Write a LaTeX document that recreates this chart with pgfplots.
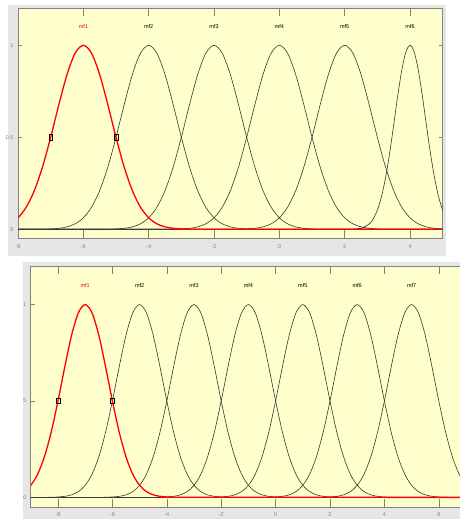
\documentclass[border=0pt]{standalone}
\usepackage{fontspec}
\setmainfont{Liberation Sans}
\usepackage{pgfplots}
\pgfplotsset{compat=1.18}
\definecolor{bgy}{RGB}{255,255,206}
\definecolor{frm}{RGB}{230,230,230}
\definecolor{axc}{RGB}{130,130,130}
\definecolor{crv}{RGB}{55,55,45}
\pgfplotsset{mfaxis/.style={
  scale only axis,
  axis background/.style={fill=bgy},
  axis line style={axc, line width=0.6pt},
  ymin=-0.05, ymax=1.2, ytick={0,0.5,1}, yticklabels={0,0.5,1},
  tick style={axc, line width=0.5pt},
  major tick length=4pt,
  xtick style={/pgfplots/major tick length=8pt},
  tick label style={font=\fontsize{5.5}{6}\selectfont, text=axc},
  xticklabel style={yshift=-2.5pt},
  yticklabel style={xshift=-1pt},
  /pgf/number format/assume math mode=true,
  mfline/.style={crv, line width=0.6pt, smooth, mark=none},
  redline/.style={red, line width=1.3pt, smooth, mark=none},
  boxmark/.style={only marks, mark=square, mark size=2.6pt, mark options={draw=black, fill=none, line width=0.5pt, xscale=0.7}},
}}
\newcommand{\mflab}[3]{\node[font=\fontsize{5.5}{6}\selectfont, text=#3] at (axis cs:#1,1.1) {#2};}
\begin{document}
\begin{tikzpicture}
\fill[white] (0pt,0pt) rectangle (460pt,519pt);
\fill[frm] (8pt,263pt) rectangle (446pt,514pt);
\fill[frm] (23pt,0pt) rectangle (470pt,257pt);
\begin{axis}[mfaxis, at={(18pt,280.5pt)}, anchor=south west, width=424.7pt, height=230pt,
  xmin=-8, xmax=5, xtick={-8,-6,...,4}]
\addplot[mfline] coordinates {(-10,0) (-7.5,0.00021) (-7.25,0.00066) (-7,0.00195) (-6.75,0.00529) (-6.5,0.01314) (-6.25,0.02993) (-6,0.0625) (-5.75,0.1197) (-5.5,0.2102) (-5.25,0.3386) (-5,0.5) (-4.75,0.6771) (-4.5,0.8409) (-4.25,0.9576) (-4,1) (-3.75,0.9576) (-3.5,0.8409) (-3.25,0.6771) (-3,0.5) (-2.75,0.3386) (-2.5,0.2102) (-2.25,0.1197) (-2,0.0625) (-1.75,0.02993) (-1.5,0.01314) (-1.25,0.00529) (-1,0.00195) (-0.75,0.00066) (-0.5,0.00021) (8,0)};
\addplot[mfline] coordinates {(-10,0) (-5.5,0.00021) (-5.25,0.00066) (-5,0.00195) (-4.75,0.00529) (-4.5,0.01314) (-4.25,0.02993) (-4,0.0625) (-3.75,0.1197) (-3.5,0.2102) (-3.25,0.3386) (-3,0.5) (-2.75,0.6771) (-2.5,0.8409) (-2.25,0.9576) (-2,1) (-1.75,0.9576) (-1.5,0.8409) (-1.25,0.6771) (-1,0.5) (-0.75,0.3386) (-0.5,0.2102) (-0.25,0.1197) (0,0.0625) (0.25,0.02993) (0.5,0.01314) (0.75,0.00529) (1,0.00195) (1.25,0.00066) (1.5,0.00021) (8,0)};
\addplot[mfline] coordinates {(-10,0) (-3.5,0.00021) (-3.25,0.00066) (-3,0.00195) (-2.75,0.00529) (-2.5,0.01314) (-2.25,0.02993) (-2,0.0625) (-1.75,0.1197) (-1.5,0.2102) (-1.25,0.3386) (-1,0.5) (-0.75,0.6771) (-0.5,0.8409) (-0.25,0.9576) (0,1) (0.25,0.9576) (0.5,0.8409) (0.75,0.6771) (1,0.5) (1.25,0.3386) (1.5,0.2102) (1.75,0.1197) (2,0.0625) (2.25,0.02993) (2.5,0.01314) (2.75,0.00529) (3,0.00195) (3.25,0.00066) (3.5,0.00021) (8,0)};
\addplot[mfline] coordinates {(-10,0) (-1.5,0.00021) (-1.25,0.00066) (-1,0.00195) (-0.75,0.00529) (-0.5,0.01314) (-0.25,0.02993) (0,0.0625) (0.25,0.1197) (0.5,0.2102) (0.75,0.3386) (1,0.5) (1.25,0.6771) (1.5,0.8409) (1.75,0.9576) (2,1) (2.25,0.9576) (2.5,0.8409) (2.75,0.6771) (3,0.5) (3.25,0.3386) (3.5,0.2102) (3.75,0.1197) (4,0.0625) (4.25,0.02993) (4.5,0.01314) (4.75,0.00529) (5,0.00195) (5.25,0.00066) (5.5,0.00021) (8,0)};
\addplot[mfline] coordinates {(-10,0) (2,0.00012) (2.25,0.00098) (2.5,0.00614) (2.75,0.0291) (2.875,0.0570) (3,0.1040) (3.125,0.1768) (3.25,0.2799) (3.375,0.4131) (3.5,0.5679) (3.625,0.7274) (3.75,0.8681) (3.875,0.9652) (4,1) (4.125,0.9652) (4.25,0.8681) (4.375,0.7274) (4.5,0.5679) (4.625,0.4131) (4.75,0.2799) (4.875,0.1768) (5,0.1040) (5.125,0.0570) (5.25,0.0291) (5.5,0.00614) (5.75,0.00098)};
\addplot[redline] coordinates {(-9.5,0.00021) (-9.25,0.00066) (-9,0.00195) (-8.75,0.00529) (-8.5,0.01314) (-8.25,0.02993) (-8,0.0625) (-7.75,0.1197) (-7.5,0.2102) (-7.25,0.3386) (-7,0.5) (-6.75,0.6771) (-6.5,0.8409) (-6.25,0.9576) (-6,1) (-5.75,0.9576) (-5.5,0.8409) (-5.25,0.6771) (-5,0.5) (-4.75,0.3386) (-4.5,0.2102) (-4.25,0.1197) (-4,0.0625) (-3.75,0.02993) (-3.5,0.01314) (-3.25,0.00529) (-3,0.00195) (-2.75,0.00066) (-2.5,0.00021) (8,0)};
\addplot[boxmark] coordinates {(-7,0.5) (-5,0.5)};
\mflab{-6}{mf1}{red}
\mflab{-4}{mf2}{black}
\mflab{-2}{mf3}{black}
\mflab{0}{mf4}{black}
\mflab{2}{mf5}{black}
\mflab{4}{mf6}{black}
\end{axis}
\begin{scope}
\clip (23pt,0pt) rectangle (460pt,257pt);
\begin{axis}[mfaxis, at={(30.8pt,12pt)}, anchor=south west, width=435.2pt, height=241pt,
  xmin=-9, xmax=7, xtick={-8,-6,...,6}]
\addplot[mfline] coordinates {(-10,0) (-8.5,0.00021) (-8.25,0.00066) (-8,0.00195) (-7.75,0.00529) (-7.5,0.01314) (-7.25,0.02993) (-7,0.0625) (-6.75,0.1197) (-6.5,0.2102) (-6.25,0.3386) (-6,0.5) (-5.75,0.6771) (-5.5,0.8409) (-5.25,0.9576) (-5,1) (-4.75,0.9576) (-4.5,0.8409) (-4.25,0.6771) (-4,0.5) (-3.75,0.3386) (-3.5,0.2102) (-3.25,0.1197) (-3,0.0625) (-2.75,0.02993) (-2.5,0.01314) (-2.25,0.00529) (-2,0.00195) (-1.75,0.00066) (-1.5,0.00021) (8,0)};
\addplot[mfline] coordinates {(-10,0) (-6.5,0.00021) (-6.25,0.00066) (-6,0.00195) (-5.75,0.00529) (-5.5,0.01314) (-5.25,0.02993) (-5,0.0625) (-4.75,0.1197) (-4.5,0.2102) (-4.25,0.3386) (-4,0.5) (-3.75,0.6771) (-3.5,0.8409) (-3.25,0.9576) (-3,1) (-2.75,0.9576) (-2.5,0.8409) (-2.25,0.6771) (-2,0.5) (-1.75,0.3386) (-1.5,0.2102) (-1.25,0.1197) (-1,0.0625) (-0.75,0.02993) (-0.5,0.01314) (-0.25,0.00529) (0,0.00195) (0.25,0.00066) (0.5,0.00021) (8,0)};
\addplot[mfline] coordinates {(-10,0) (-4.5,0.00021) (-4.25,0.00066) (-4,0.00195) (-3.75,0.00529) (-3.5,0.01314) (-3.25,0.02993) (-3,0.0625) (-2.75,0.1197) (-2.5,0.2102) (-2.25,0.3386) (-2,0.5) (-1.75,0.6771) (-1.5,0.8409) (-1.25,0.9576) (-1,1) (-0.75,0.9576) (-0.5,0.8409) (-0.25,0.6771) (0,0.5) (0.25,0.3386) (0.5,0.2102) (0.75,0.1197) (1,0.0625) (1.25,0.02993) (1.5,0.01314) (1.75,0.00529) (2,0.00195) (2.25,0.00066) (2.5,0.00021) (8,0)};
\addplot[mfline] coordinates {(-10,0) (-2.5,0.00021) (-2.25,0.00066) (-2,0.00195) (-1.75,0.00529) (-1.5,0.01314) (-1.25,0.02993) (-1,0.0625) (-0.75,0.1197) (-0.5,0.2102) (-0.25,0.3386) (0,0.5) (0.25,0.6771) (0.5,0.8409) (0.75,0.9576) (1,1) (1.25,0.9576) (1.5,0.8409) (1.75,0.6771) (2,0.5) (2.25,0.3386) (2.5,0.2102) (2.75,0.1197) (3,0.0625) (3.25,0.02993) (3.5,0.01314) (3.75,0.00529) (4,0.00195) (4.25,0.00066) (4.5,0.00021) (8,0)};
\addplot[mfline] coordinates {(-10,0) (-0.5,0.00021) (-0.25,0.00066) (0,0.00195) (0.25,0.00529) (0.5,0.01314) (0.75,0.02993) (1,0.0625) (1.25,0.1197) (1.5,0.2102) (1.75,0.3386) (2,0.5) (2.25,0.6771) (2.5,0.8409) (2.75,0.9576) (3,1) (3.25,0.9576) (3.5,0.8409) (3.75,0.6771) (4,0.5) (4.25,0.3386) (4.5,0.2102) (4.75,0.1197) (5,0.0625) (5.25,0.02993) (5.5,0.01314) (5.75,0.00529) (6,0.00195) (6.25,0.00066) (6.5,0.00021) (8,0)};
\addplot[mfline] coordinates {(-10,0) (1.5,0.00021) (1.75,0.00066) (2,0.00195) (2.25,0.00529) (2.5,0.01314) (2.75,0.02993) (3,0.0625) (3.25,0.1197) (3.5,0.2102) (3.75,0.3386) (4,0.5) (4.25,0.6771) (4.5,0.8409) (4.75,0.9576) (5,1) (5.25,0.9576) (5.5,0.8409) (5.75,0.6771) (6,0.5) (6.25,0.3386) (6.5,0.2102) (6.75,0.1197) (7,0.0625) (7.25,0.02993) (7.5,0.01314)};
\addplot[redline] coordinates {(-10.5,0.00021) (-10.25,0.00066) (-10,0.00195) (-9.75,0.00529) (-9.5,0.01314) (-9.25,0.02993) (-9,0.0625) (-8.75,0.1197) (-8.5,0.2102) (-8.25,0.3386) (-8,0.5) (-7.75,0.6771) (-7.5,0.8409) (-7.25,0.9576) (-7,1) (-6.75,0.9576) (-6.5,0.8409) (-6.25,0.6771) (-6,0.5) (-5.75,0.3386) (-5.5,0.2102) (-5.25,0.1197) (-5,0.0625) (-4.75,0.02993) (-4.5,0.01314) (-4.25,0.00529) (-4,0.00195) (-3.75,0.00066) (-3.5,0.00021) (8,0)};
\addplot[boxmark] coordinates {(-8,0.5) (-6,0.5)};
\mflab{-7}{mf1}{red}
\mflab{-5}{mf2}{black}
\mflab{-3}{mf3}{black}
\mflab{-1}{mf4}{black}
\mflab{1}{mf5}{black}
\mflab{3}{mf6}{black}
\mflab{5}{mf7}{black}
\end{axis}
\end{scope}
\pgfresetboundingbox
\path[use as bounding box] (0pt,0pt) rectangle (460pt,519pt);
\end{tikzpicture}
\end{document}
